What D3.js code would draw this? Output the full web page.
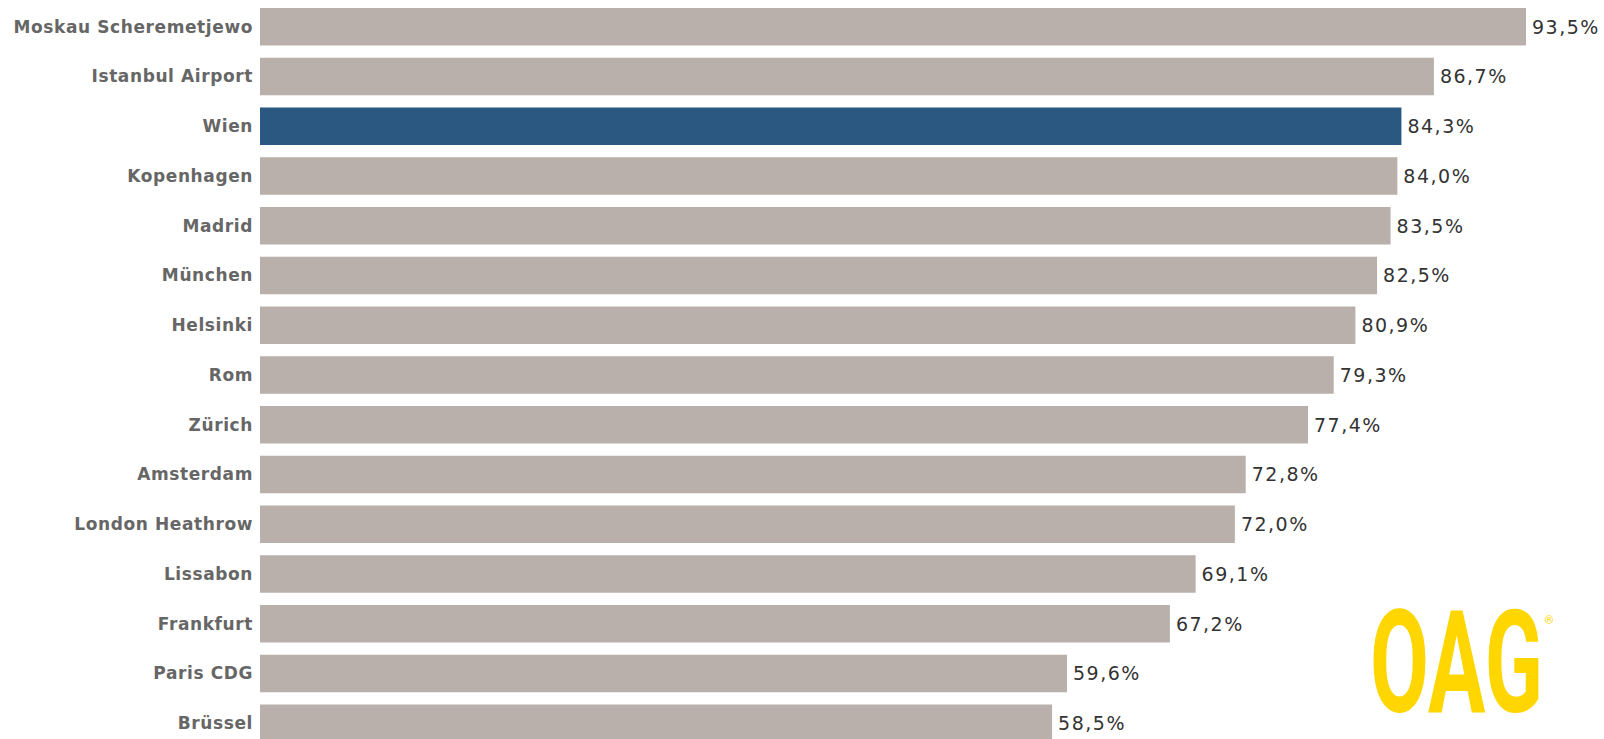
<!DOCTYPE html>
<meta charset="utf-8">
<html lang="de">
<head>
  <title>Sitzladefaktor Flughäfen</title>
  <script src="https://d3js.org/d3.v7.min.js"></script>
  <style>
    html, body { margin: 0; padding: 0; background: #fff; }
    svg { display: block; }
  </style>
</head>
<body>
<div id="chart"></div>
<script>
  // airports, top to bottom
  var airports = ["Moskau Scheremetjewo", "Istanbul Airport", "Wien", "Kopenhagen", "Madrid",
    "München", "Helsinki", "Rom", "Zürich", "Amsterdam", "London Heathrow", "Lissabon",
    "Frankfurt", "Paris CDG", "Brüssel"];
  // values in percent
  var values = [93.5, 86.7, 84.3, 84.0, 83.5, 82.5, 80.9, 79.3, 77.4, 72.8, 72.0, 69.1, 67.2, 59.6, 58.5];
  var highlight = "Wien";

  var width = 1604, height = 739;

  var data = airports.map(function(a, i) { return {name: a, value: values[i]}; });

  var svg = d3.select("#chart").append("svg")
    .attr("width", width)
    .attr("height", height);

  // x scale: bar starts at 260px
  var x = d3.scaleLinear()
    .domain([0, 100])
    .range([260, 260 + 1354]);

  var y = d3.scaleBand()
    .domain(airports)
    .range([1.875, 1.875 + 15 * 49.75])
    .paddingInner(0.246)
    .paddingOuter(0.123);

  // bars
  svg.selectAll("rect.bar")
    .data(data)
    .enter().append("rect")
      .attr("class", "bar")
      .attr("x", x(0))
      .attr("y", function(d) { return y(d.name); })
      .attr("width", function(d) { return x(d.value) - x(0); })
      .attr("height", y.bandwidth())
      .style("fill", function(d) { return d.name === highlight ? "#2b5880" : "#b9b0ab"; });

  // category labels
  svg.selectAll("text.label")
    .data(data)
    .enter().append("text")
      .attr("class", "label")
      .attr("x", 253)
      .attr("y", function(d) { return y(d.name) + y.bandwidth() / 2; })
      .attr("dy", "0.35em")
      .attr("text-anchor", "end")
      .style("font-family", "'DejaVu Sans', Verdana, sans-serif")
      .style("font-weight", "bold")
      .style("font-size", "17px")
      .style("letter-spacing", "0.6px")
      .style("fill", "#666")
      .text(function(d) { return d.name; });

  // value labels
  svg.selectAll("text.value")
    .data(data)
    .enter().append("text")
      .attr("class", "value")
      .attr("x", function(d) { return x(d.value) + 6; })
      .attr("y", function(d) { return y(d.name) + y.bandwidth() / 2; })
      .attr("dy", "0.36em")
      .style("font-family", "'DejaVu Sans', Verdana, sans-serif")
      .style("font-size", "19px")
      .style("letter-spacing", "1.5px")
      .style("fill", "#333")
      .text(function(d) { return d3.format(".1f")(d.value).replace(".", ",") + "%"; });

  // OAG logo
  svg.append("text")
    .attr("x", 1370)
    .attr("y", 712)
    .attr("textLength", 173)
    .attr("lengthAdjust", "spacingAndGlyphs")
    .style("font-family", "Roboto, sans-serif")
    .style("font-weight", "bold")
    .style("font-size", "142px")
    .style("fill", "#ffd600")
    .text("OAG");

  svg.append("text")
    .attr("x", 1549)
    .attr("y", 624)
    .attr("text-anchor", "middle")
    .style("font-family", "Roboto, sans-serif")
    .style("font-size", "11px")
    .style("fill", "#ffd600")
    .text("®");
</script>
</body>
</html>
